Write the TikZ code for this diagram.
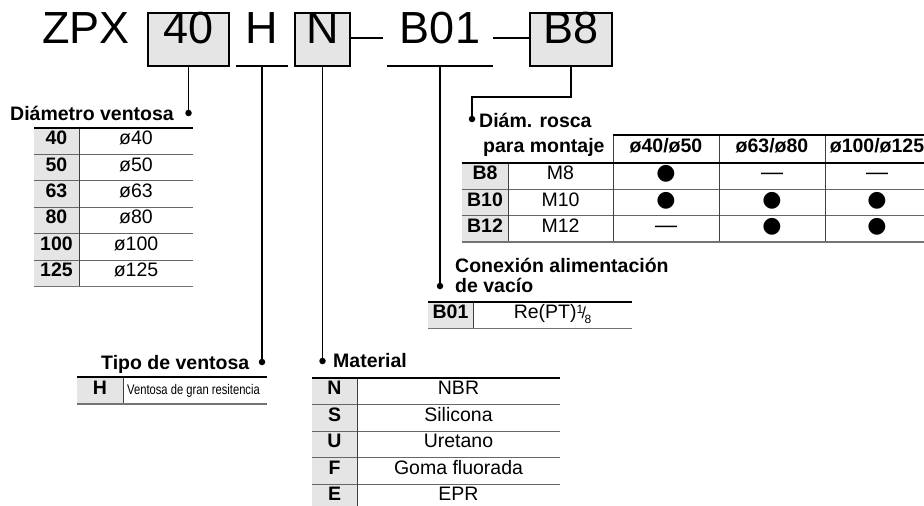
\documentclass[tikz,border=0pt]{standalone}
\usepackage{fontspec}
\setmainfont{Liberation Sans}
\newfontfamily\symfont{DejaVu Sans}
\usetikzlibrary{positioning}
\definecolor{keygray}{gray}{0.9}
\newcommand{\tabfont}{\fontsize{19.5}{23}\selectfont}
\newcommand{\codefont}{\fontsize{45}{50}\selectfont}
\newcommand{\fullmark}{{\symfont\fontsize{22}{23}\selectfont ●}}
\newcommand{\nomark}{{\fontsize{22}{23}\selectfont —}}
\newcommand{\eighth}{\raisebox{0.28em}{\fontsize{12}{12}\selectfont 1}\kern-0.08em{\fontsize{16}{16}\selectfont /}\kern-0.08em\raisebox{-0.22em}{\fontsize{12}{12}\selectfont 8}}
\tikzset{
  codetxt/.style={inner sep=0pt, minimum height=53pt, text height=0.716em, text depth=0pt, font=\codefont},
  codebox/.style={codetxt, draw, line width=2.2pt, fill=keygray, minimum width=#1},
  ttl/.style={anchor=base west, inner sep=0pt, font=\tabfont\bfseries},
  keycell/.style={fill=keygray, minimum width=45.5pt, minimum height=26.4pt, inner sep=0pt,
    text height=0.716em, text depth=0pt, font=\tabfont\bfseries},
  valcell/.style={inner sep=0pt, text height=0.716em, text depth=0pt, font=\tabfont},
  lead/.style={line width=1.6pt},
  leadend/.style={circle, fill, inner sep=0pt, minimum size=6.5pt},
  toprule/.style={line width=2pt},
  midrule/.style={line width=1pt, black!60},
  botrule/.style={line width=1.8pt, black!55},
  colrule/.style={line width=1pt, black!75},
}
\begin{document}
\begin{tikzpicture}[x=1pt, y=-1pt]
  \useasboundingbox (0,0) rectangle (924,506);

  % part number
  \node[codetxt, anchor=west] (zpx) at (42,39.5) {ZPX};
  \node[codebox=81pt] (d40) at (188.5,39.5) {40};
  \node[codetxt, minimum width=52pt] (hh) at (262,39.5) {H};
  \node[codebox=55pt] (mN) at (322.5,39.5) {N};
  \node[codetxt, minimum width=106pt] (cB01) at (440,39.5) {B01};
  \node[codebox=82pt] (tB8) at (571,39.5) {B8};
  \draw[line width=2pt] (hh.south west) -- (hh.south east);
  \draw[line width=2pt] (cB01.south west) -- (cB01.south east);
  \coordinate (dash1) at (383,38);
  \coordinate (dash2) at (493,38);
  \draw[line width=2pt] (mN.east |- dash1) -- (dash1);
  \draw[line width=2pt] (dash2) -- (tB8.west |- dash2);

  % leader ends
  \node[leadend] (dD) at (188.5,113) {};
  \node[leadend] (dT) at (262,362) {};
  \node[leadend] (dM) at (322.5,361) {};
  \node[leadend] (dC) at (440,286) {};
  \node[leadend] (dR) at (472,119) {};
  \draw[lead] (d40.south) -- (dD.center);
  \draw[lead] (hh.south) -- (dT.center);
  \draw[lead] (mN.south) -- (dM.center);
  \draw[lead] (cB01.south) -- (dC.center);
  \draw[lead] (tB8.south) -- ++(0,30) -| (dR.center);

  % Diametro ventosa
  \node[ttl] (dtitle) at (10,120.5) {Diámetro ventosa};
  \foreach \k/\v [count=\i] in {40/ø40, 50/ø50, 63/ø63, 80/ø80, 100/ø100, 125/ø125} {
    \node[keycell] (dk\i) at (56.5,{128+(\i-0.5)*26.4}) {\k};
    \node[valcell] (dv\i) at (136,{128+(\i-0.5)*26.4}) {\v};
  }
  \foreach \i in {1,...,5}
    \draw[midrule] (34,{128+\i*26.4}) -- (193,{128+\i*26.4});
  \draw[colrule] (79,128) -- (79,286.4);
  \draw[toprule] (34,128) -- (193,128);
  \draw[botrule] (34,286.4) -- (193,286.4);

  % Diam. rosca para montaje
  \node[ttl] (rtitle1) at (479,127) {Diám. rosca};
  \node[ttl] (rtitle2) at (483,152) {para montaje};
  \node[valcell, font=\tabfont\bfseries] (rh1) at (666,149) {ø40/ø50};
  \node[valcell, font=\tabfont\bfseries] (rh2) at (772,149) {ø63/ø80};
  \node[valcell, font=\tabfont\bfseries] (rh3) at (877,149) {ø100/ø125};
  \foreach \k/\m/\a/\b/\c [count=\i] in {B8/M8/\fullmark/\nomark/\nomark,
      B10/M10/\fullmark/\fullmark/\fullmark, B12/M12/\nomark/\fullmark/\fullmark} {
    \node[keycell, minimum height=26.3pt] (rk\i) at (485,{163+(\i-0.5)*26.3}) {\k};
    \node[valcell] (rm\i) at (560.5,{163+(\i-0.5)*26.3}) {\m};
    \node[valcell] (ra\i) at (666,{163+(\i-0.5)*26.3}) {\a};
    \node[valcell] (rb\i) at (772,{163+(\i-0.5)*26.3}) {\b};
    \node[valcell] (rc\i) at (877,{163+(\i-0.5)*26.3}) {\c};
  }
  \foreach \i in {1,2}
    \draw[midrule] (462,{163+\i*26.3}) -- (924,{163+\i*26.3});
  \draw[colrule] (508,163) -- (508,242);
  \foreach \x in {613,719,825}
    \draw[colrule] (\x,135) -- (\x,242);
  \draw[toprule] (613,135) -- (924,135);
  \draw[line width=1.3pt] (462,163) -- (924,163);
  \draw[botrule] (462,242) -- (924,242);

  % Conexion alimentacion de vacio
  \node[ttl] (ctitle1) at (455,272) {Conexión alimentación};
  \node[ttl] (ctitle2) at (455,292) {de vacío};
  \node[keycell] (ck) at (450.5,315.2) {B01};
  \node[valcell] (cv) at (552.5,315.2) {Re(PT)\eighth};
  \draw[colrule] (473,302) -- (473,328.4);
  \draw[toprule] (428,302) -- (632,302);
  \draw[botrule] (428,328.4) -- (632,328.4);

  % Tipo de ventosa
  \node[ttl] (ttitle) at (101,369) {Tipo de ventosa};
  \node[keycell] (tk) at (100,390.5) {H};
  \node[valcell, anchor=west, font=\fontsize{14}{16}\selectfont] (tv) at (127,390.5)
    {\scalebox{0.8}[1]{Ventosa de gran resitencia}};
  \draw[colrule] (123,377) -- (123,404);
  \draw[toprule] (77,377) -- (267,377);
  \draw[botrule] (77,404) -- (267,404);

  % Material
  \node[ttl] (mtitle) at (333,367) {Material};
  \foreach \k/\v [count=\i] in {N/NBR, S/Silicona, U/Uretano, F/Goma fluorada, E/EPR} {
    \node[keycell, minimum height=26.5pt] (mk\i) at (334.5,{378+(\i-0.5)*26.5}) {\k};
    \node[valcell] (mv\i) at (458.5,{378+(\i-0.5)*26.5}) {\v};
  }
  \foreach \i in {1,...,4}
    \draw[midrule] (312,{378+\i*26.5}) -- (560,{378+\i*26.5});
  \draw[colrule] (357,378) -- (357,506);
  \draw[toprule] (312,378) -- (560,378);
\end{tikzpicture}
\end{document}
